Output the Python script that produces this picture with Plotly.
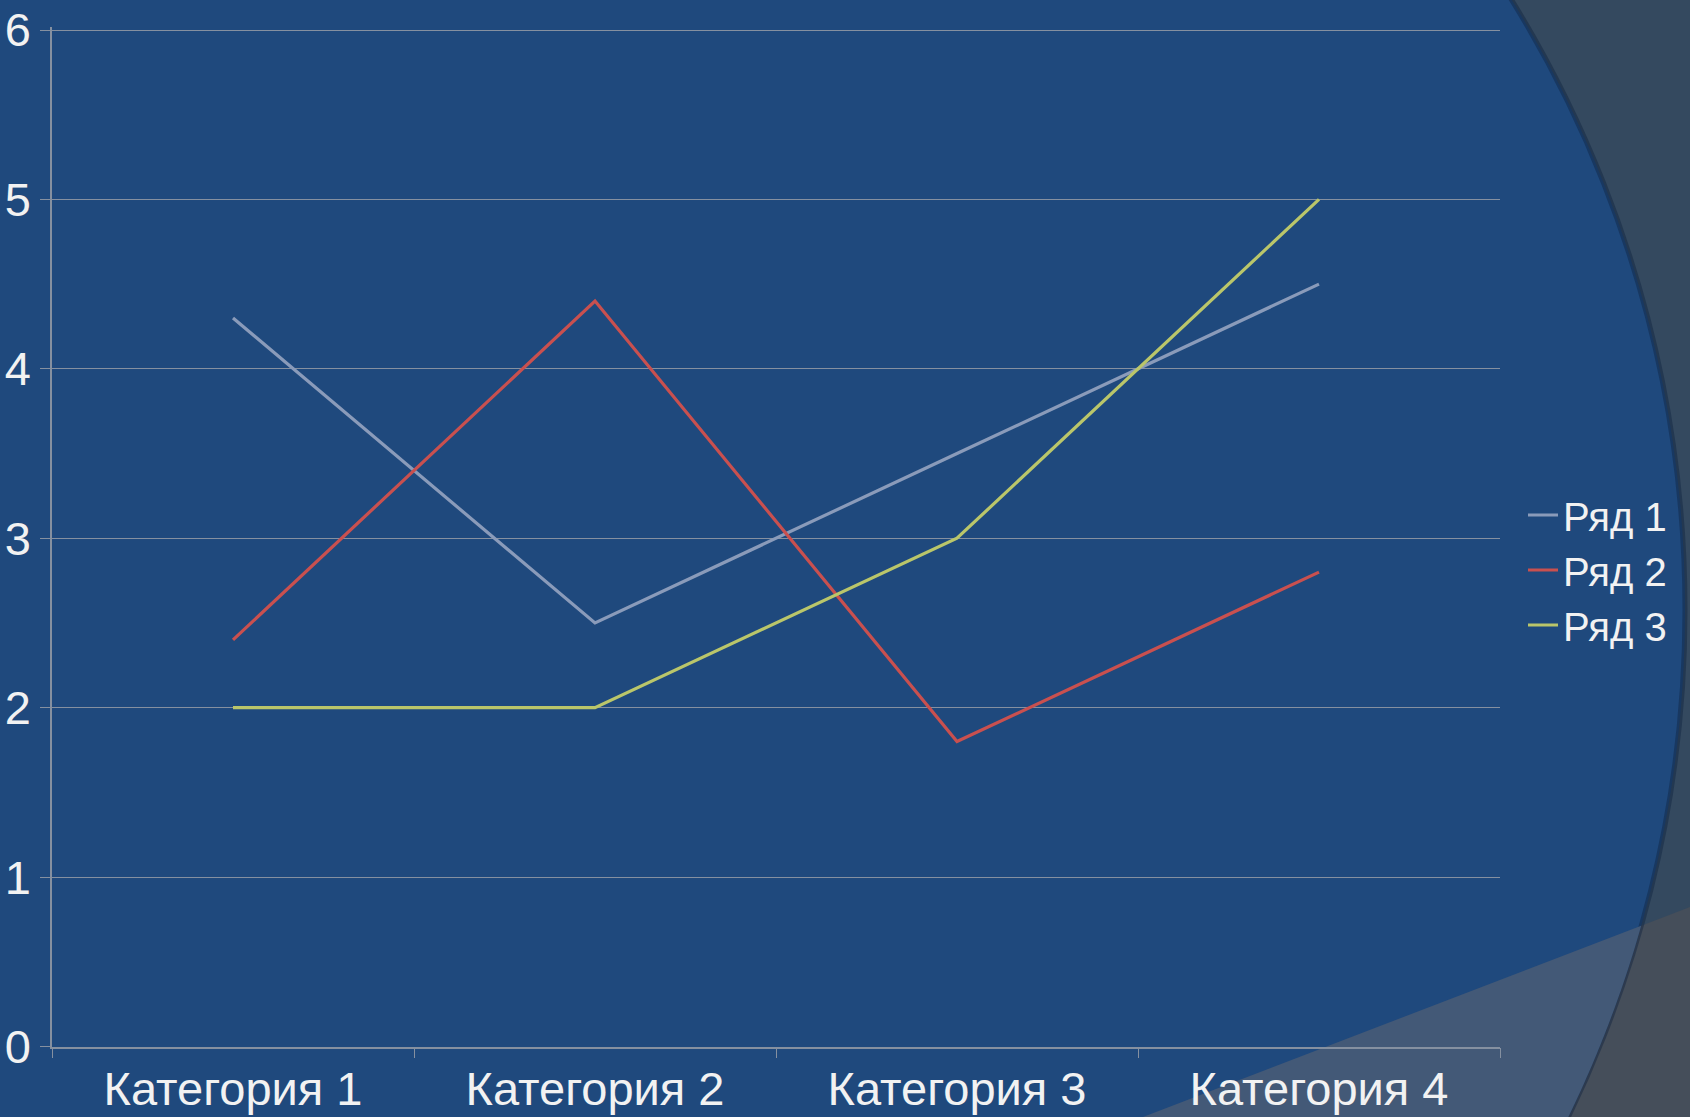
import numpy as np
import plotly.graph_objects as go

# ---- data ----
categories = ["Категория 1", "Категория 2", "Категория 3", "Категория 4"]
series_names = ["Ряд 1", "Ряд 2", "Ряд 3"]
row1 = [4.3, 2.5, 3.5, 4.5]
row2 = [2.4, 4.4, 1.8, 2.8]
row3 = [2.0, 2.0, 3.0, 5.0]
y_ticks = [0, 1, 2, 3, 4, 5, 6]

W, H = 1690, 1117
colors = ["#8A9BBA", "#C9504F", "#BAC66A"]
FONT = "Liberation Sans, Arial, sans-serif"
TXT = "#F2F2F2"
GRID = "#8590A0"

def px(x):
    return x / W

def py(y):
    return 1 - y / H

fig = go.Figure()
for name, vals, c in zip(series_names, [row1, row2, row3], colors):
    fig.add_trace(go.Scatter(x=categories, y=vals, name=name, mode="lines",
                             line=dict(color=c, width=3.2)))

# ---- decorative background ----
cx, cy, r = 525.0, 610.0, 1160.0
A = np.array([1143.0, 1117.0])
B = np.array([1690.0, 907.0])
ts = np.linspace(0, 1, 20001)
pts = A[None, :] + ts[:, None] * (B - A)[None, :]
d = np.hypot(pts[:, 0] - cx, pts[:, 1] - cy)
P = pts[np.argmin(np.abs(d - r))]
qx = cx + np.sqrt(r**2 - (1117 - cy) ** 2)
a1 = np.arctan2(P[1] - cy, P[0] - cx)
a2 = np.arctan2(1117 - cy, qx - cx)
angs = np.linspace(a1, a2, 40)
arc = [(cx + r * np.cos(a), cy + r * np.sin(a)) for a in angs]
inner = [tuple(A), tuple(P)] + arc + [(qx, 1117.0)]
inner_path = "M " + " L ".join(f"{px(x):.5f},{py(y):.5f}" for x, y in inner) + " Z"
tri = [tuple(A), tuple(B), (1690.0, 1117.0)]
tri_path = "M " + " L ".join(f"{px(x):.5f},{py(y):.5f}" for x, y in tri) + " Z"

shapes = [
    dict(type="path", path=tri_path, xref="paper", yref="paper",
         fillcolor="#454E5A", line=dict(width=0), layer="below"),
    dict(type="circle", xref="paper", yref="paper",
         x0=px(cx - r), x1=px(cx + r), y0=py(cy + r), y1=py(cy - r),
         fillcolor="#1F497D", line=dict(color="rgba(15,35,65,0.45)", width=5), layer="below"),
    dict(type="path", path=inner_path, xref="paper", yref="paper",
         fillcolor="#435977", line=dict(width=0), layer="below"),
]

Y_TOP = 6.02
unit = (1046.5 - 30) / 6
top_px = 1046.5 - Y_TOP * unit

fig.update_layout(
    width=W, height=H,
    paper_bgcolor="#34495F",
    plot_bgcolor="rgba(0,0,0,0)",
    margin=dict(l=0, r=0, t=0, b=0, pad=0),
    shapes=shapes,
    font=dict(family=FONT, color=TXT, size=47),
    showlegend=True,
    legend=dict(x=px(1523), y=py(570), xanchor="left", yanchor="middle",
                bgcolor="rgba(0,0,0,0)", font=dict(size=40, color=TXT, family=FONT),
                itemwidth=30, tracegroupgap=0),
    xaxis=dict(domain=[px(52), px(1500)], range=[-0.5, 3.5], automargin=False,
               showgrid=False, showline=True, linecolor=GRID, linewidth=1.5,
               ticks="outside", tickson="boundaries", ticklen=10, tickcolor=GRID,
               tickfont=dict(size=47, color=TXT, family=FONT), zeroline=False),
    yaxis=dict(domain=[py(1046.5), py(top_px)], range=[0, Y_TOP], tickvals=y_ticks, automargin=False,
               showgrid=True, gridcolor=GRID, gridwidth=1.2,
               showline=True, linecolor=GRID, linewidth=1.5,
               ticks="outside", ticklen=10, tickcolor=GRID,
               tickfont=dict(size=47, color=TXT, family=FONT), zeroline=False),
)

fig.write_html("out.html", config={"displayModeBar": False},
               post_script="document.body.style.margin='0';document.body.style.overflow='hidden';")
